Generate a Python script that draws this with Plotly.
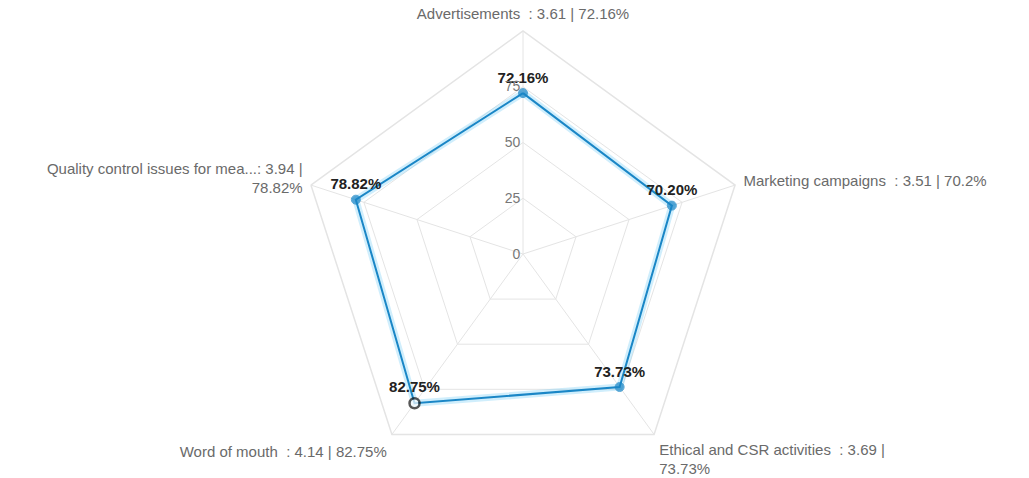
import plotly.graph_objects as go

categories = [
    "Advertisements",
    "Marketing campaigns",
    "Ethical and CSR activities",
    "Word of mouth",
    "Quality control issues for mea...",
]
scores = [3.61, 3.51, 3.69, 4.14, 3.94]
percents = [72.16, 70.20, 73.73, 82.75, 78.82]
percent_texts = ["72.16%", "70.2%", "73.73%", "82.75%", "78.82%"]
radial_ticks = [0, 25, 50, 75]

# Axis labels: name, mean score and share; the long ones wrap onto a second line
wrap = {"Ethical and CSR activities", "Quality control issues for mea..."}
axis_labels = []
for name, s, p in zip(categories, scores, percent_texts):
    sep = "<br>" if name in wrap else " "
    if name.endswith("..."):
        axis_labels.append(f"{name}: {s:.2f} |{sep}{p}")
    else:
        axis_labels.append(f"{name}  : {s:.2f} |{sep}{p}")

theta = axis_labels + [axis_labels[0]]
r = percents + [percents[0]]
point_labels = [f"{v:.2f}%" for v in percents]

line_blue = "#1a86c6"
highlight = categories.index("Word of mouth")

fig = go.Figure()

# soft halo under the series line
fig.add_trace(go.Scatterpolar(
    r=r, theta=theta, mode="lines",
    line=dict(color="rgba(120,205,245,0.35)", width=7),
    hoverinfo="skip", showlegend=False,
))

marker_fill = [("white" if i == highlight else line_blue) for i in range(len(percents))]
marker_edge = [("#111111" if i == highlight else line_blue) for i in range(len(percents))]
marker_size = [(10 if i == highlight else 9) for i in range(len(percents))]
marker_width = [(2.5 if i == highlight else 1) for i in range(len(percents))]

fig.add_trace(go.Scatterpolar(
    r=r, theta=theta, mode="lines",
    line=dict(color=line_blue, width=2),
    hoverinfo="skip", showlegend=False,
))

fig.add_trace(go.Scatterpolar(
    r=percents, theta=axis_labels, mode="markers+text",
    marker=dict(color=marker_fill, size=marker_size,
                line=dict(color=marker_edge, width=marker_width)),
    text=point_labels, textposition="top center",
    textfont=dict(family="Liberation Sans, Arial, sans-serif", size=15, color="#222222", weight="bold"),
    showlegend=False,
))

fig.update_layout(
    width=1029, height=478,
    margin=dict(l=17, r=0, t=31, b=1),
    paper_bgcolor="white",
    font=dict(family="Liberation Sans, Arial, sans-serif", size=12, color="#666666"),
    polar=dict(
        bgcolor="white",
        gridshape="linear",
        angularaxis=dict(
            rotation=90, direction="clockwise",
            gridcolor="#e4e4e4", linecolor="#e4e4e4", linewidth=1.5,
            tickfont=dict(size=15, color="#6a6a6a"),
            ticks="outside", ticklen=5, tickcolor="rgba(0,0,0,0)",
        ),
        radialaxis=dict(
            range=[0, 100], tickvals=radial_ticks, ticktext=[str(t) for t in radial_ticks],
            angle=90, tickangle=90, side="counterclockwise",
            gridcolor="#e4e4e4", showline=False, ticks="",
            tickfont=dict(size=14, color="#777777"),
        ),
    ),
)

fig.write_html("out.html")
